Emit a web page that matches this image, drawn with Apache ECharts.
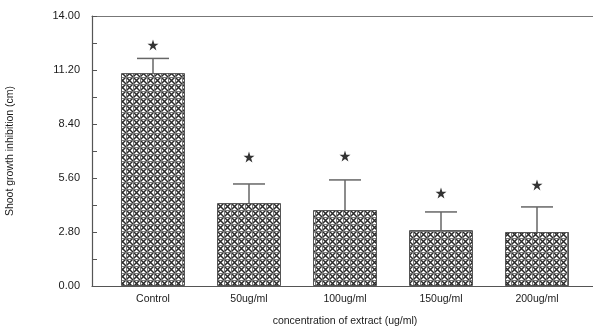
<!DOCTYPE html>
<html>
<head>
<meta charset="utf-8">
<script src="https://cdn.jsdelivr.net/npm/echarts@6/dist/echarts.min.js"></script>
<style>html,body{margin:0;padding:0;background:#fff}#c{width:593px;height:328px}</style>
</head>
<body>
<div id="c"></div>
<script>
const categories = ['Control', '50ug/ml', '100ug/ml', '150ug/ml', '200ug/ml'];
const means = [11.04, 4.30, 3.94, 2.90, 2.80];
const errorTops = [11.80, 5.29, 5.50, 3.84, 4.10];
const starValues = [12.50, 6.69, 6.74, 4.82, 5.24];
const yTicks = [0, 2.8, 5.6, 8.4, 11.2, 14];

function makePattern() {
  const s = 7;
  const cv = document.createElement('canvas');
  cv.width = s; cv.height = s;
  const g = cv.getContext('2d');
  g.fillStyle = '#ffffff';
  g.fillRect(0, 0, s, s);
  g.strokeStyle = '#2a2a2a';
  g.lineWidth = 1.5;
  g.beginPath();
  g.moveTo(0, 0); g.lineTo(s, s);
  g.moveTo(s, 0); g.lineTo(0, s);
  g.stroke();
  g.strokeStyle = '#777';
  g.lineWidth = 1;
  g.beginPath();
  g.moveTo(0.5, 0); g.lineTo(0.5, s);
  g.moveTo(0, 0.5); g.lineTo(s, 0.5);
  g.stroke();
  return cv;
}

const starPath = 'path://M50,0 L61.8,35.1 L98.9,35.1 L68.9,56.8 L80.3,91.9 L50,70.2 L19.7,91.9 L31.1,56.8 L1.1,35.1 L38.2,35.1 Z';

const chart = echarts.init(document.getElementById('c'), null, {renderer: 'canvas'});
const axisColor = '#555';
const font = 'Liberation Sans, Arial, sans-serif';

chart.setOption({
  animation: false,
  grid: [
    {left: 92, right: -6, top: 16, bottom: 42, outerBoundsMode: 'none', containLabel: false},
    {left: 105, width: 480, top: 16, bottom: 42, outerBoundsMode: 'none', containLabel: false}
  ],
  xAxis: [
    {gridIndex: 0, type: 'value', min: 0, max: 1, position: 'bottom',
     axisLine: {show: true, lineStyle: {color: axisColor, width: 1.2}},
     axisTick: {show: false}, axisLabel: {show: false}, splitLine: {show: false}, z: 5},
    {gridIndex: 0, type: 'value', min: 0, max: 1, position: 'top',
     axisLine: {show: true, lineStyle: {color: '#777', width: 1.2}},
     axisTick: {show: false}, axisLabel: {show: false}, splitLine: {show: false}},
    {gridIndex: 1, type: 'category', data: categories, position: 'bottom',
     axisLine: {show: false}, axisTick: {show: false}, splitLine: {show: false},
     axisLabel: {color: '#1a1a1a', fontSize: 10.5, fontFamily: font, margin: 8},
     name: 'concentration of extract (ug/ml)', nameLocation: 'middle', nameGap: 30,
     nameTextStyle: {color: '#1a1a1a', fontSize: 10.5, fontFamily: font}}
  ],
  yAxis: [
    {gridIndex: 0, type: 'value', min: 0, max: 14, interval: 1.4,
     axisLine: {show: true, lineStyle: {color: axisColor, width: 1.2}},
     axisTick: {show: true, inside: true, length: 5, lineStyle: {color: axisColor}},
     splitLine: {show: false},
     axisLabel: {color: '#1a1a1a', fontSize: 11, fontFamily: font, margin: 12,
       formatter: function (v) {
         const k = Math.round(v / 1.4);
         if (k % 2 !== 0) return '';
         const t = yTicks[k / 2];
         return t === undefined ? '' : t.toFixed(2);
       }},
     name: 'Shoot growth inhibition (cm)', nameLocation: 'middle', nameGap: 76,
     nameTextStyle: {color: '#1a1a1a', fontSize: 10.5, fontFamily: font}},
    {gridIndex: 1, type: 'value', min: 0, max: 14, show: false}
  ],
  series: [
    {type: 'bar', xAxisIndex: 2, yAxisIndex: 1, data: means, barWidth: 64,
     itemStyle: {color: {image: makePattern(), repeat: 'repeat'}, borderColor: '#555', borderWidth: 1}},
    {type: 'custom', xAxisIndex: 2, yAxisIndex: 1,
     data: categories.map((c, i) => [i, means[i], errorTops[i]]),
     renderItem: function (params, api) {
       const base = api.coord([api.value(0), api.value(1)]);
       const top = api.coord([api.value(0), api.value(2)]);
       const hw = 16;
       const st = {stroke: '#666', lineWidth: 1.5};
       return {type: 'group', children: [
         {type: 'line', shape: {x1: base[0], y1: base[1], x2: top[0], y2: top[1]}, style: st},
         {type: 'line', shape: {x1: top[0] - hw, y1: top[1], x2: top[0] + hw, y2: top[1]}, style: st}
       ]};
     }, z: 3},
    {type: 'scatter', xAxisIndex: 2, yAxisIndex: 1, data: starValues,
     symbol: starPath, symbolSize: 11, itemStyle: {color: '#000'}, z: 4}
  ]
});
</script>
</body>
</html>
